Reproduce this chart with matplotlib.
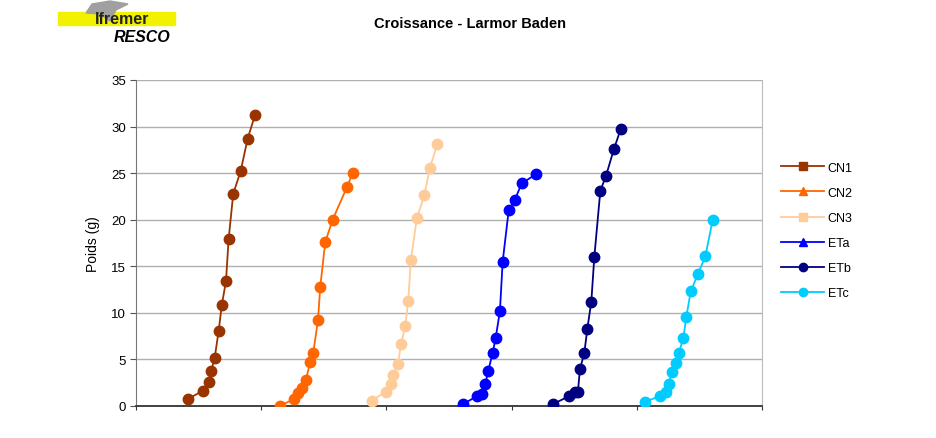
import matplotlib.pyplot as plt
from matplotlib.lines import Line2D
from matplotlib.patches import Rectangle, Polygon

plt.rcParams['font.family'] = ['Liberation Sans', 'DejaVu Sans']

# days since start (x) and weight in grams (y) for each batch
cn1_x = [41.8, 53.3, 58.1, 60.1, 62.9, 66.1, 68.5, 71.9, 74.0, 77.7, 83.6, 89.2, 95.0]
cn1_y = [0.75, 1.65, 2.6, 3.75, 5.2, 8.1, 10.8, 13.4, 17.9, 22.8, 25.2, 28.7, 31.2]

cn2_x = [115.0, 126.4, 129.6, 132.3, 135.8, 139.2, 141.6, 145.4, 147.2, 151.2, 157.1, 168.5, 173.1]
cn2_y = [0.03, 0.75, 1.36, 1.97, 2.83, 4.76, 5.73, 9.23, 12.8, 17.6, 20.0, 23.5, 25.0]

cn3_x = [188.3, 199.7, 203.4, 205.5, 209.3, 211.7, 215.1, 217.5, 219.6, 224.4, 230.3, 234.6, 240.7]
cn3_y = [0.57, 1.54, 2.33, 3.30, 4.55, 6.66, 8.59, 11.3, 15.7, 20.2, 22.6, 25.5, 28.1]

eta_x = [261.4, 272.1, 276.6, 279.0, 281.4, 284.9, 287.3, 290.7, 292.9, 297.7, 302.5, 308.1, 319.7]
eta_y = [0.21, 1.04, 1.32, 2.33, 3.80, 5.69, 7.30, 10.2, 15.5, 21.0, 22.1, 23.9, 24.9]

etb_x = [333.3, 345.6, 350.6, 353.0, 354.6, 358.1, 360.5, 363.7, 366.1, 370.9, 375.4, 381.8, 387.1]
etb_y = [0.21, 1.04, 1.47, 1.54, 3.94, 5.69, 8.27, 11.2, 16.0, 23.1, 24.7, 27.6, 29.7]

etc_x = [406.5, 418.5, 423.3, 425.5, 427.9, 431.6, 433.7, 437.2, 439.6, 443.1, 449.0, 454.8, 460.7]
etc_y = [0.47, 1.04, 1.54, 2.36, 3.62, 4.58, 5.69, 7.33, 9.59, 12.3, 14.2, 16.1, 20.0]

names = ['CN1', 'CN2', 'CN3', 'ETa', 'ETb', 'ETc']
colors = ['#993300', '#FF6600', '#FFCC99', '#0000FF', '#000080', '#00CCFF']
legend_markers = ['s', '^', 's', '^', 'o', 'o']
series = [(cn1_x, cn1_y), (cn2_x, cn2_y), (cn3_x, cn3_y),
          (eta_x, eta_y), (etb_x, etb_y), (etc_x, etc_y)]

fig = plt.figure(figsize=(9.37, 4.39), dpi=100)
ax = fig.add_axes([0.1451, 0.0729, 0.6681, 0.7426])

for (xs, ys), c in zip(series, colors):
    ax.plot(xs, ys, color=c, lw=1.3, marker='o', ms=7.5, mec=c, mfc=c, zorder=3)

ax.set_xlim(0, 500)
ax.set_ylim(0, 35)
ax.set_yticks(range(0, 36, 5))
ax.set_xticks(range(0, 501, 100))
ax.set_xticklabels([])
ax.tick_params(axis='y', labelsize=9.5, length=4, color='#555555', pad=3)
ax.tick_params(axis='x', length=3, color='#333333', direction='out')
ax.grid(axis='y', color='#b0b0b0', lw=1)
ax.set_axisbelow(True)
ax.spines['left'].set_color('#777777')
ax.spines['bottom'].set_color('#333333')
ax.spines['bottom'].set_linewidth(1.3)
ax.spines['right'].set_color('#bbbbbb')
ax.spines['top'].set_visible(False)
ax.set_ylabel('Poids (g)', fontsize=10, labelpad=8)

handles = [Line2D([], [], color=c, lw=1.3, marker=m, ms=6, mec=c, mfc=c)
           for c, m in zip(colors, legend_markers)]
fig.legend(handles, names, loc='upper left', bbox_to_anchor=(0.822, 0.655),
           frameon=False, fontsize=9, handlelength=3.4, handletextpad=0.3,
           labelspacing=1.05)

fig.text(0.502, 0.945, 'Croissance - Larmor Baden', ha='center', va='center',
         fontsize=10.5, fontweight='bold')

# Ifremer / RESCO logo
fig.patches.append(Rectangle((58 / 937, 1 - 26 / 439), 117 / 937, 13 / 439,
                             transform=fig.transFigure, color='#F2F200', zorder=1))
fig.patches.append(Polygon([(86 / 937, 1 - 14 / 439), (92 / 937, 1 - 5 / 439),
                            (110 / 937, 1 - 2 / 439), (128 / 937, 1 - 5 / 439),
                            (116 / 937, 1 - 11 / 439), (110 / 937, 1 - 22 / 439),
                            (100 / 937, 1 - 15 / 439)],
                           transform=fig.transFigure, color='#a0a0a0', zorder=2))
fig.text(95 / 937, 1 - 20 / 439, 'Ifremer', fontsize=11.5, fontweight='bold',
         color='#222222', va='center', zorder=3)
fig.text(114 / 937, 1 - 38 / 439, 'RESCO', fontsize=11.5, fontweight='bold',
         fontstyle='italic', color='black', va='center', zorder=3)

fig.savefig('out.png', dpi=100)
